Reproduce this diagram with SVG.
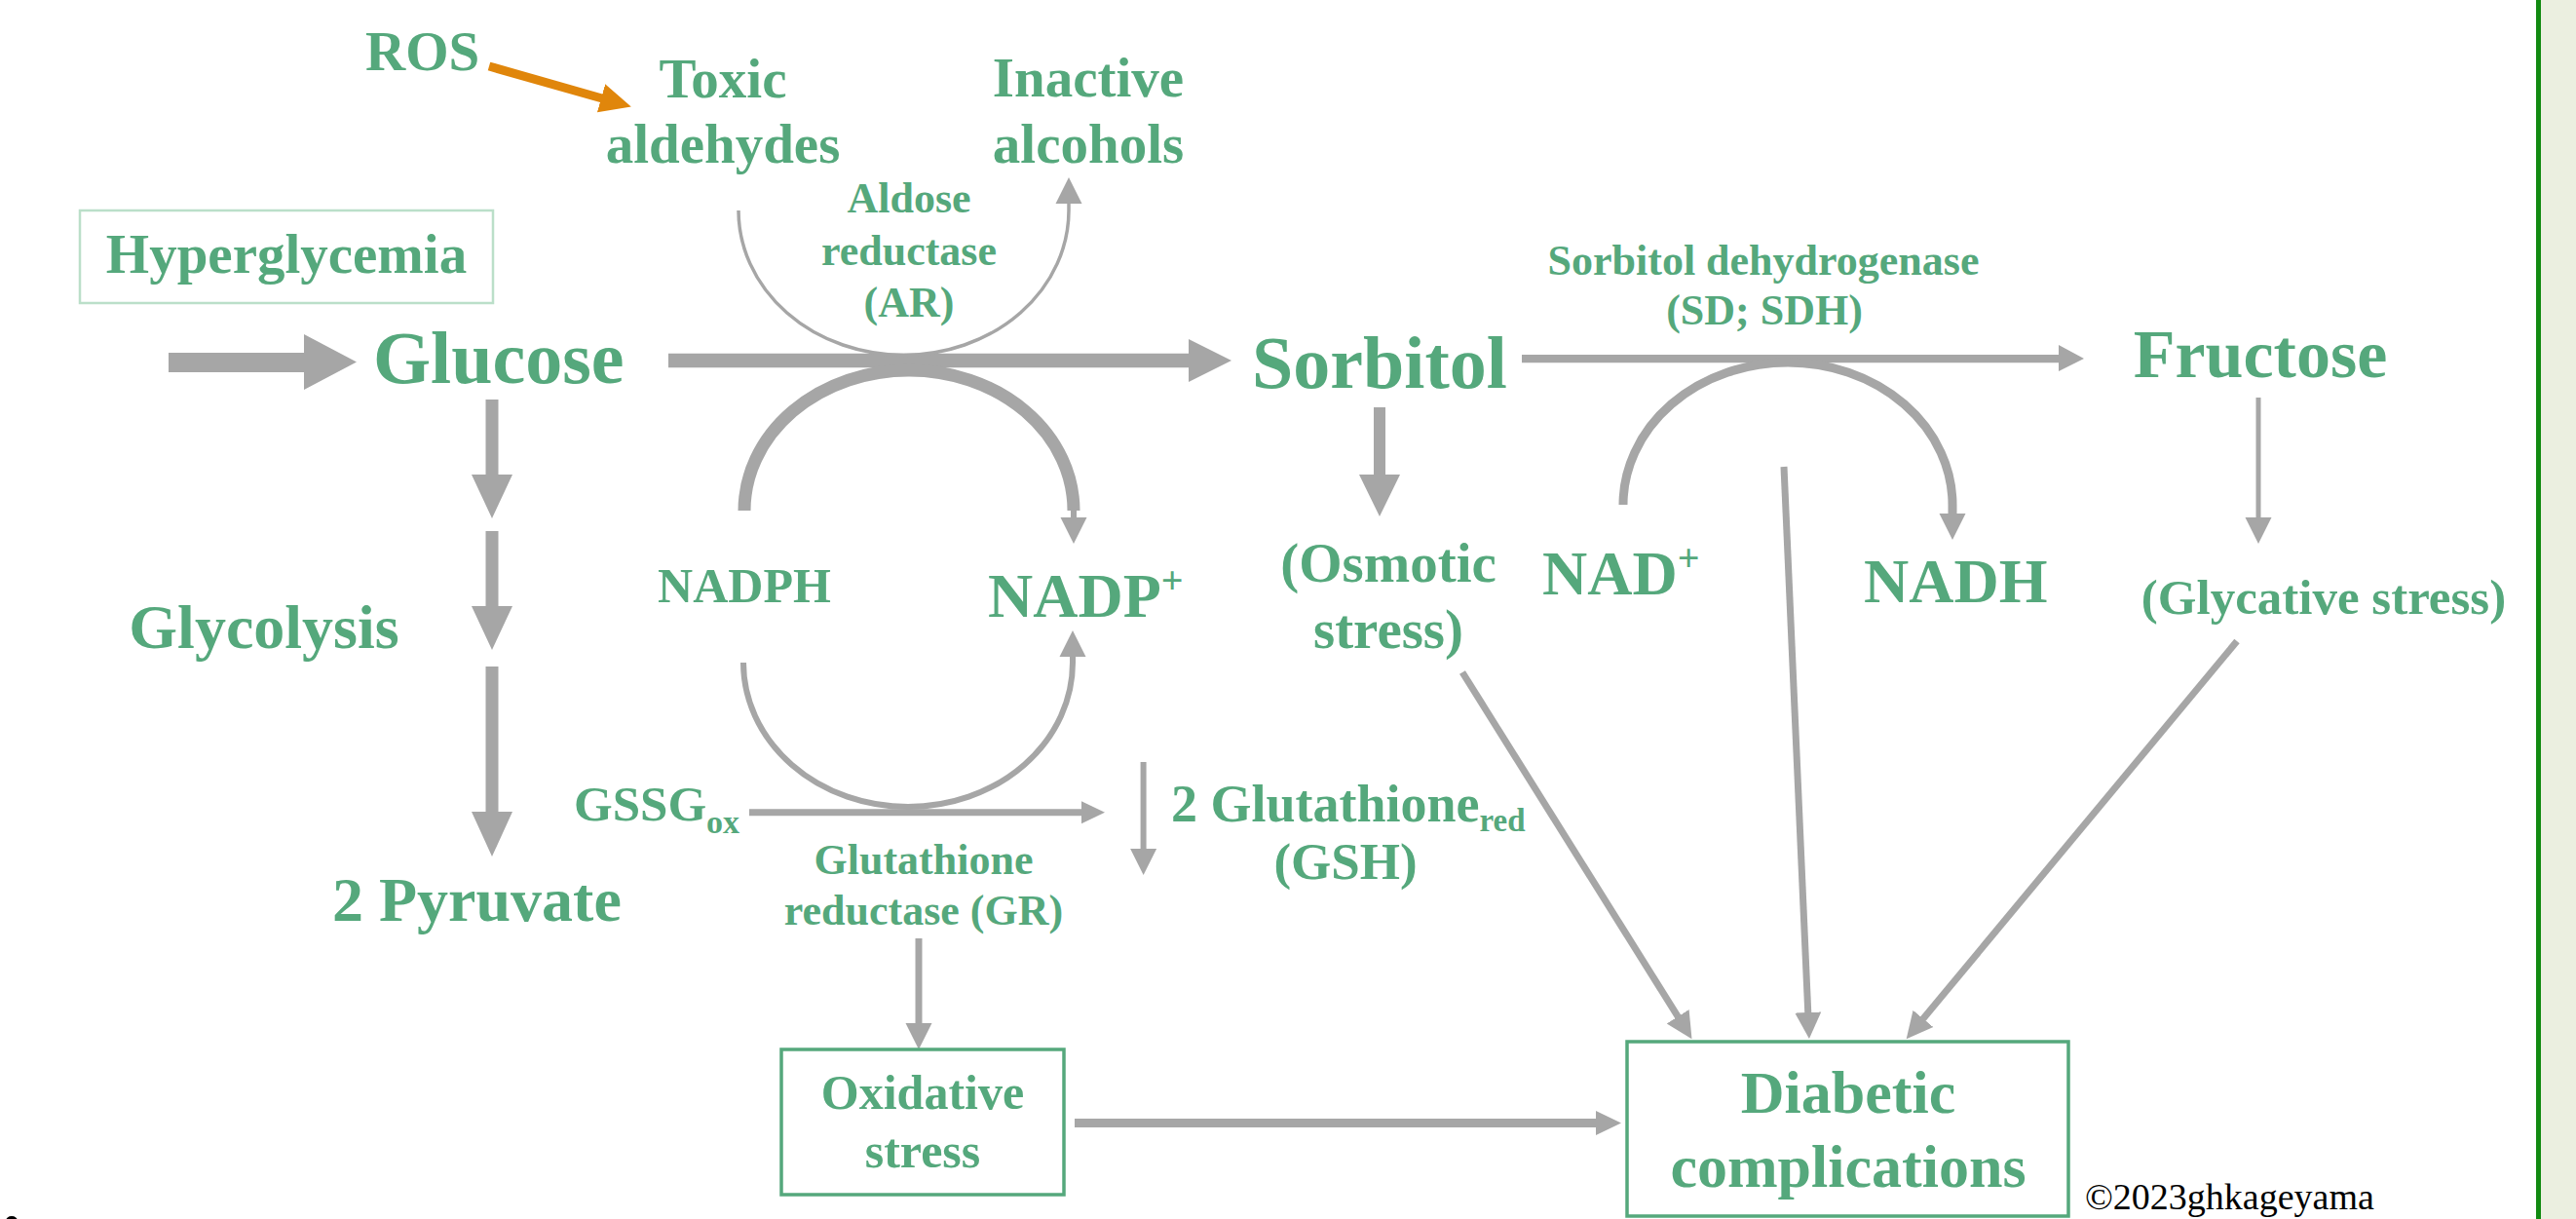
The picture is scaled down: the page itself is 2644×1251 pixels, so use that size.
<svg xmlns="http://www.w3.org/2000/svg" width="2644" height="1251" viewBox="0 0 2644 1251">
<style>
.t{font-family:"Liberation Serif","Times New Roman",serif;font-weight:bold;fill:#55A87C}
.c{text-anchor:middle}
.g{fill:#A6A6A6}
.ln{stroke:#A6A6A6;fill:none}
.box{fill:none;stroke:#55A87C;stroke-width:3.5}
</style>
<defs>
<marker id="ah" markerUnits="userSpaceOnUse" markerWidth="30" markerHeight="30" viewBox="0 0 30 30" refX="1" refY="15" orient="auto"><path d="M0,1.5 L27,15 L0,28.5 z" fill="#A6A6A6"/></marker>
<marker id="ahs" markerUnits="userSpaceOnUse" markerWidth="26" markerHeight="26" viewBox="0 0 26 26" refX="1" refY="13" orient="auto"><path d="M0,1.5 L24,13 L0,24.5 z" fill="#A6A6A6"/></marker>
<marker id="aho" markerUnits="userSpaceOnUse" markerWidth="34" markerHeight="34" viewBox="0 0 34 34" refX="1" refY="17" orient="auto"><path d="M0,2 L32,17 L0,32 z" fill="#E0860B"/></marker>
</defs>
<rect width="2644" height="1251" fill="#FFFFFF"/>
<rect x="2608" y="0" width="36" height="1251" fill="#EBEFE0"/>
<rect x="2603" y="0" width="5" height="1251" fill="#118A11"/>
<ellipse cx="12" cy="1253" rx="6" ry="5" fill="#000"/>

<g id="connectors">
  <polygon class="g" points="173,362 312,362 312,343 366,371.5 312,400 312,382 173,382"/>
  <polygon class="g" points="686,362.7 1220,362.7 1220,348 1264,370 1220,392 1220,377.3 686,377.3"/>
  <polygon class="g" points="1562,364 2113,364 2113,354 2139,368 2113,381 2113,372.3 1562,372.3"/>
  <polygon class="g" points="1103,1148 1638,1148 1638,1140 1664,1152.5 1638,1165 1638,1157 1103,1157"/>
  <polygon class="g" points="498.5,410 511.5,410 511.5,487 526,487 505,532 484,487 498.5,487"/>
  <polygon class="g" points="498.5,545 511.5,545 511.5,622 526,622 505,667 484,622 498.5,622"/>
  <polygon class="g" points="498.5,684 511.5,684 511.5,833 526,833 505,879 484,833 498.5,833"/>
  <polygon class="g" points="1410,418 1422,418 1422,487 1437,487 1416,530 1395,487 1410,487"/>
  <line x1="502" y1="68" x2="618" y2="101" stroke="#E0860B" stroke-width="9" marker-end="url(#aho)"/>
  <path class="ln" d="M758,216 A169,148 0 0 0 1097,216 L1097,208" stroke-width="3.5" marker-end="url(#ah)"/>
  <path class="ln" d="M764,524 A169,144 0 0 1 1102,524" stroke-width="13"/>
  <line class="ln" x1="1102" y1="522" x2="1102" y2="532" stroke-width="6" marker-end="url(#ah)"/>
  <path class="ln" d="M763,680 A169,148 0 0 0 1101,680 L1101,673" stroke-width="6" marker-end="url(#ah)"/>
  <line class="ln" x1="769" y1="833.7" x2="1111" y2="833.7" stroke-width="7" marker-end="url(#ahs)"/>
  <line class="ln" x1="1173.6" y1="782" x2="1173.6" y2="872" stroke-width="6" marker-end="url(#ah)"/>
  <line class="ln" x1="943" y1="963" x2="943" y2="1051" stroke-width="7" marker-end="url(#ah)"/>
  <path class="ln" d="M1666,518 A169,146 0 0 1 2004,518 L2004,528" stroke-width="9" marker-end="url(#ah)"/>
  <line class="ln" x1="2318" y1="408" x2="2318" y2="532" stroke-width="5" marker-end="url(#ah)"/>
  <line class="ln" x1="1501" y1="690" x2="1722.7" y2="1044.1" stroke-width="7" marker-end="url(#ah)"/>
  <line class="ln" x1="1831" y1="479" x2="1855.8" y2="1040" stroke-width="7" marker-end="url(#ah)"/>
  <line class="ln" x1="2296" y1="658" x2="1973.3" y2="1046.2" stroke-width="7" marker-end="url(#ah)"/>
</g>

<g id="ros"><text class="t" x="375" y="72" font-size="57">ROS</text></g>
<g id="toxic-aldehydes"><text class="t c" x="742" y="100" font-size="57">Toxic</text><text class="t c" x="742" y="167" font-size="57">aldehydes</text></g>
<g id="inactive-alcohols"><text class="t c" x="1117" y="99" font-size="57">Inactive</text><text class="t c" x="1117" y="167" font-size="57">alcohols</text></g>
<g id="hyperglycemia"><rect x="82" y="216" width="424" height="95" fill="none" stroke="#BBDFC9" stroke-width="2.5"/><text class="t c" x="294" y="280" font-size="57">Hyperglycemia</text></g>
<g id="aldose-reductase"><text class="t c" x="933" y="218" font-size="44">Aldose</text><text class="t c" x="933" y="272" font-size="44">reductase</text><text class="t c" x="933" y="325" font-size="44">(AR)</text></g>
<g id="glucose"><text class="t" x="383" y="393" font-size="76">Glucose</text></g>
<g id="sorbitol"><text class="t" x="1285" y="398" font-size="76">Sorbitol</text></g>
<g id="sorbitol-dehydrogenase"><text class="t c" x="1810" y="282" font-size="44">Sorbitol dehydrogenase</text><text class="t c" x="1811" y="333" font-size="44">(SD; SDH)</text></g>
<g id="fructose"><text class="t c" x="2320" y="387" font-size="70">Fructose</text></g>
<g id="glycolysis"><text class="t c" x="271" y="665" font-size="64">Glycolysis</text></g>
<g id="nadph"><text class="t c" x="764" y="618" font-size="50">NADPH</text></g>
<g id="nadp"><text class="t" x="1014" y="633" font-size="64">NADP<tspan font-size="40" dy="-24">+</tspan></text></g>
<g id="osmotic-stress"><text class="t c" x="1425" y="597" font-size="57">(Osmotic</text><text class="t c" x="1425" y="665" font-size="57">stress)</text></g>
<g id="nad"><text class="t" x="1583" y="610" font-size="64">NAD<tspan font-size="40" dy="-24">+</tspan></text></g>
<g id="nadh"><text class="t" x="1913" y="618" font-size="64">NADH</text></g>
<g id="glycative-stress"><text class="t c" x="2385" y="630" font-size="51">(Glycative stress)</text></g>
<g id="gssg"><text class="t" x="589" y="842" font-size="51">GSSG<tspan font-size="34" dy="13">ox</tspan></text></g>
<g id="gsh"><text class="t" x="1202" y="843" font-size="54">2 Glutathione<tspan font-size="33" dy="10">red</tspan></text><text class="t c" x="1381" y="902" font-size="53">(GSH)</text></g>
<g id="glutathione-reductase"><text class="t c" x="948" y="897" font-size="44">Glutathione</text><text class="t c" x="948" y="949" font-size="44">reductase (GR)</text></g>
<g id="pyruvate"><text class="t" x="341" y="945" font-size="64">2 Pyruvate</text></g>
<g id="oxidative-stress"><rect class="box" x="802" y="1077" width="290" height="149"/><text class="t c" x="947" y="1138" font-size="50">Oxidative</text><text class="t c" x="947" y="1198" font-size="50">stress</text></g>
<g id="diabetic-complications"><rect class="box" x="1670" y="1069" width="453" height="179" stroke-width="4"/><text class="t c" x="1897" y="1142" font-size="62">Diabetic</text><text class="t c" x="1897" y="1218" font-size="62">complications</text></g>
<g id="copyright"><text x="2140" y="1241" font-size="38" font-family="Liberation Serif,'Times New Roman',serif" fill="#000">©2023ghkageyama</text></g>
</svg>
